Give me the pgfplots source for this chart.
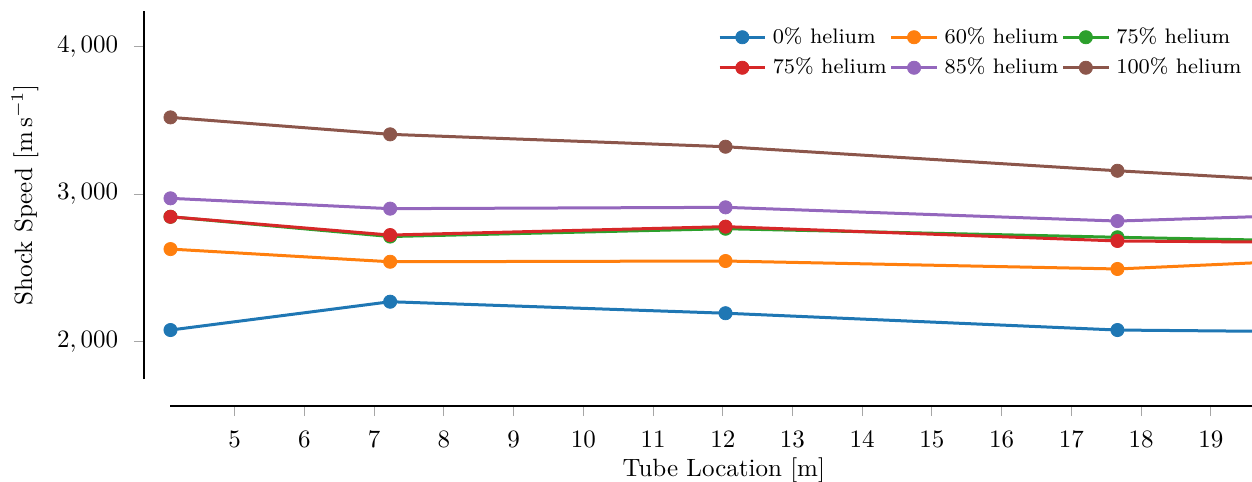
\documentclass[border=0pt]{standalone}
\usepackage{pgfplots}
\usepackage{pgfplotstable}
\pgfplotsset{compat=1.18}

% tab10 palette
\definecolor{tabblue}{HTML}{1F77B4}
\definecolor{taborange}{HTML}{FF7F0E}
\definecolor{tabgreen}{HTML}{2CA02C}
\definecolor{tabred}{HTML}{D62728}
\definecolor{tabpurple}{HTML}{9467BD}
\definecolor{tabbrown}{HTML}{8C564B}

% shock speed [m/s] at each tube location [m]
\pgfplotstableread{
x      he0   he60  he75a he75b he85  he100
4.08   2079  2628  2847  2847  2972  3521
7.23   2271  2542  2713  2723  2902  3406
12.04  2193  2547  2766  2780  2911  3322
17.66  2079  2493  2708  2683  2818  3159
21.00  2065  2564  2677  2671  2868  3071
}\shockdata

\begin{document}
\begin{tikzpicture}
\begin{axis}[
  scale only axis, width=432.6pt, height=147.3pt,
  xmin=4.08, xmax=19.59, ymin=1747, ymax=4244,
  axis lines=left, axis line style={draw=none},
  clip mode=individual,
  xtick={5,...,19}, ytick={2000,3000,4000},
  scaled y ticks=false,
  yticklabel style={/pgf/number format/1000 sep={{,}}},
  tick align=outside, major tick length=4pt,
  xtick style={draw=black!35, line width=0.4pt, yshift=-10.8pt},
  ytick style={draw=black!35, line width=0.4pt, xshift=-10.6pt},
  xticklabel style={yshift=-13.4pt},
  yticklabel style={xshift=-13.4pt},
  every axis x label/.style={at={(rel axis cs:0.5,0)}, anchor=center, yshift=-36.4pt, xshift=5pt},
  every axis y label/.style={at={(rel axis cs:0,0.5)}, xshift=-58.2pt, rotate=90, anchor=center},
  xlabel={Tube Location [m]},
  ylabel={Shock Speed [m\,s$^{-1}$]},
  legend columns=3,
  legend cell align=left,
  legend image code/.code={%
    \draw[mark indices={2}] plot coordinates {(0cm,0cm) (0.32cm,0cm) (0.64cm,0cm)};},
  legend style={at={(rel axis cs:1,1)}, anchor=north east, xshift=1pt, yshift=-2.5pt,
    draw=none, fill=none, font=\fontsize{8.4}{10}\selectfont,
    column sep=0.5pt, row sep=0.4pt,
    /tikz/every even column/.append style={column sep=-0.8pt}},
  every axis plot/.append style={line width=1.2pt, line join=round, mark=*,
    mark size=2.65pt, mark options={line width=0.3pt}, mark indices={1,2,3,4}},
]
\addplot[tabblue]   table[x=x, y=he0]   {\shockdata};
\addlegendentry{0\% helium}
\addplot[taborange] table[x=x, y=he60]  {\shockdata};
\addlegendentry{60\% helium}
\addplot[tabgreen]  table[x=x, y=he75a] {\shockdata};
\addlegendentry{75\% helium}
\addplot[tabred]    table[x=x, y=he75b] {\shockdata};
\addlegendentry{75\% helium}
\addplot[tabpurple] table[x=x, y=he85]  {\shockdata};
\addlegendentry{85\% helium}
\addplot[tabbrown]  table[x=x, y=he100] {\shockdata};
\addlegendentry{100\% helium}
\end{axis}
% offset spines
\draw[line width=1.1pt] ([xshift=-10.6pt]current axis.south west) -- ([xshift=-10.6pt]current axis.north west);
\draw[line width=1.1pt] ([yshift=-10.8pt]current axis.south west) -- ([yshift=-10.8pt]current axis.south east);
\pgfresetboundingbox
\path[use as bounding box] ([xshift=-68.2pt, yshift=-41.2pt]current axis.south west) rectangle ([yshift=4.3pt]current axis.north east);
\end{tikzpicture}
\end{document}
